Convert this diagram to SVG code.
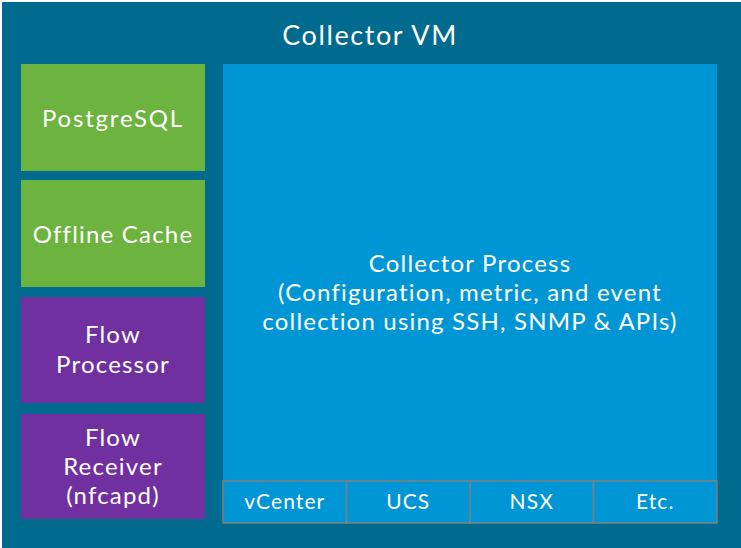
<svg xmlns="http://www.w3.org/2000/svg" width="741" height="548" viewBox="0 0 741 548">
  <style>
    text { font-family: Lato, "Open Sans", "Liberation Sans", sans-serif; fill: #ffffff; text-anchor: middle; }
    .t { font-size: 27px; letter-spacing: 1.6px; }
    .m { font-size: 24px; letter-spacing: 1.2px; }
    .s { font-size: 21px; letter-spacing: 1.1px; }
    .cell { fill: #0096D6; stroke: #7f7f7f; stroke-width: 1.5; }
  </style>
  <rect x="0" y="0" width="741" height="548" fill="#ffffff"/>
  <g id="collector-vm">
    <rect x="2" y="2" width="739" height="546" fill="#006A8F"/>
    <text class="t" x="370" y="45">Collector VM</text>
  </g>
  <g id="postgresql">
    <rect x="21" y="64" width="184" height="107" fill="#6DB33F"/>
    <text class="m" x="113" y="127" style="letter-spacing:1.8px">PostgreSQL</text>
  </g>
  <g id="offline-cache">
    <rect x="21" y="180" width="184" height="107" fill="#6DB33F"/>
    <text class="m" x="113" y="243">Offline Cache</text>
  </g>
  <g id="flow-processor">
    <rect x="21" y="297" width="184" height="106" fill="#7030A0"/>
    <text class="m" x="113" y="343">Flow</text>
    <text class="m" x="113" y="373">Processor</text>
  </g>
  <g id="flow-receiver">
    <rect x="21" y="414" width="184" height="105" fill="#7030A0"/>
    <text class="m" x="113" y="446">Flow</text>
    <text class="m" x="113" y="475">Receiver</text>
    <text class="m" x="113" y="504">(nfcapd)</text>
  </g>
  <g id="collector-process">
    <rect x="223" y="64" width="494" height="417" fill="#0096D6"/>
    <text class="m" x="470" y="272">Collector Process</text>
    <text class="m" x="470" y="301">(Configuration, metric, and event</text>
    <text class="m" x="470" y="330">collection using SSH, SNMP &amp; APIs)</text>
  </g>
  <g id="vcenter">
    <rect class="cell" x="223" y="481" width="123.5" height="42"/>
    <text class="s" x="284.75" y="509">vCenter</text>
  </g>
  <g id="ucs">
    <rect class="cell" x="346.5" y="481" width="123.5" height="42"/>
    <text class="s" x="408.25" y="509">UCS</text>
  </g>
  <g id="nsx">
    <rect class="cell" x="470" y="481" width="123.5" height="42"/>
    <text class="s" x="531.75" y="509">NSX</text>
  </g>
  <g id="etc">
    <rect class="cell" x="593.5" y="481" width="123.5" height="42"/>
    <text class="s" x="655.25" y="509">Etc.</text>
  </g>
  <g id="connectors"/>
</svg>
